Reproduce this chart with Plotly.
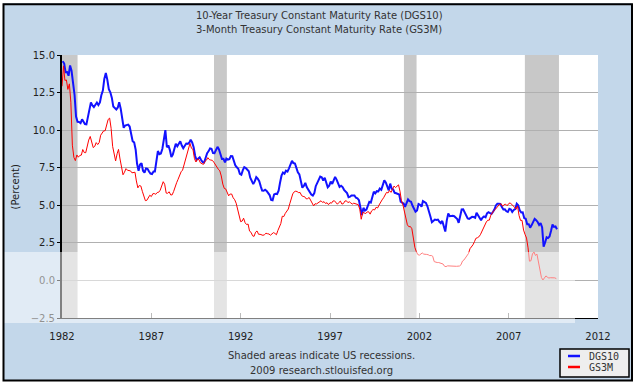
import pandas as pd
import plotly.graph_objects as go

# ---------------- data (monthly) ----------------
dgs10_values = [
    # 1982
    14.59, 14.43, 13.86, 13.87, 13.62, 14.30, 13.95, 13.06, 12.34, 10.91, 10.55, 10.54,
    # 1983
    10.46, 10.72, 10.51, 10.40, 10.38, 10.85, 11.38, 11.85, 11.65, 11.54, 11.69, 11.83,
    # 1984
    11.67, 11.84, 12.32, 12.63, 13.41, 13.80, 13.36, 12.72, 12.52, 12.16, 11.57, 11.50,
    # 1985
    11.38, 11.51, 11.86, 11.43, 10.85, 10.16, 10.31, 10.33, 10.37, 10.24, 9.78, 9.26,
    # 1986
    9.19, 8.70, 7.78, 7.30, 7.71, 7.80, 7.30, 7.17, 7.45, 7.43, 7.25, 7.11,
    # 1987
    7.08, 7.25, 7.25, 8.02, 8.61, 8.40, 8.45, 8.76, 9.42, 10.00, 8.86, 8.99,
    # 1988
    8.67, 8.21, 8.37, 8.72, 9.09, 8.92, 9.06, 9.26, 8.98, 8.80, 8.96, 9.11,
    # 1989
    9.09, 9.17, 9.36, 9.18, 8.86, 8.28, 8.02, 8.11, 8.19, 8.01, 7.87, 7.84,
    # 1990
    8.21, 8.47, 8.59, 8.79, 8.76, 8.48, 8.47, 8.75, 8.89, 8.72, 8.39, 8.08,
    # 1991
    8.09, 7.85, 8.11, 8.04, 8.07, 8.28, 8.27, 7.90, 7.65, 7.53, 7.42, 7.09,
    # 1992
    7.03, 7.34, 7.54, 7.48, 7.39, 7.26, 6.84, 6.59, 6.42, 6.59, 6.87, 6.77,
    # 1993
    6.60, 6.26, 5.98, 5.97, 6.04, 5.96, 5.81, 5.68, 5.36, 5.33, 5.72, 5.77,
    # 1994
    5.75, 5.97, 6.48, 6.97, 7.18, 7.10, 7.30, 7.24, 7.46, 7.74, 7.96, 7.81,
    # 1995
    7.78, 7.47, 7.20, 7.06, 6.63, 6.17, 6.28, 6.49, 6.20, 6.04, 5.93, 5.71,
    # 1996
    5.65, 5.81, 6.27, 6.51, 6.74, 6.91, 6.87, 6.64, 6.83, 6.53, 6.20, 6.30,
    # 1997
    6.58, 6.42, 6.69, 6.89, 6.71, 6.49, 6.22, 6.30, 6.21, 6.03, 5.88, 5.81,
    # 1998
    5.54, 5.57, 5.65, 5.64, 5.65, 5.50, 5.46, 5.34, 4.81, 4.35, 4.83, 4.65,
    # 1999
    4.72, 5.00, 5.23, 5.18, 5.54, 5.90, 5.79, 5.94, 5.92, 6.11, 6.03, 6.28,
    # 2000
    6.66, 6.52, 6.26, 5.99, 6.44, 6.10, 6.05, 5.83, 5.80, 5.74, 5.72, 5.24,
    # 2001
    5.16, 5.10, 4.89, 5.14, 5.39, 5.28, 5.24, 4.97, 4.73, 4.57, 4.65, 5.09,
    # 2002
    5.04, 4.91, 5.28, 5.21, 5.16, 4.93, 4.65, 4.26, 3.87, 3.94, 4.05, 4.03,
    # 2003
    4.05, 3.90, 3.81, 3.96, 3.57, 3.25, 3.98, 4.45, 4.27, 4.29, 4.30, 4.27,
    # 2004
    4.15, 4.08, 3.83, 4.35, 4.72, 4.73, 4.50, 4.28, 4.13, 4.10, 4.19, 4.23,
    # 2005
    4.22, 4.17, 4.50, 4.34, 4.14, 4.00, 4.18, 4.26, 4.20, 4.46, 4.54, 4.47,
    # 2006
    4.42, 4.57, 4.72, 4.99, 5.11, 5.11, 5.09, 4.88, 4.72, 4.73, 4.60, 4.56,
    # 2007
    4.76, 4.72, 4.56, 4.69, 4.75, 5.10, 5.00, 4.67, 4.52, 4.53, 4.15, 4.10,
    # 2008
    3.74, 3.74, 3.51, 3.68, 3.88, 4.10, 4.01, 3.89, 3.69, 3.81, 3.53, 2.25,
    # 2009
    2.52, 2.87, 2.82, 2.93, 3.29, 3.72, 3.56, 3.59, 3.40,
]

gs3m_values = [
    # 1982
    12.92, 14.28, 13.31, 13.34, 12.71, 13.08, 11.86, 9.00, 8.19, 7.97, 8.35, 8.20,
    # 1983
    8.32, 8.34, 8.71, 8.51, 8.50, 8.96, 9.34, 9.58, 9.27, 8.84, 8.92, 9.17,
    # 1984
    9.04, 9.18, 9.66, 9.84, 9.95, 9.96, 10.32, 10.71, 10.80, 10.12, 8.92, 8.34,
    # 1985
    7.95, 8.43, 8.72, 8.08, 7.63, 7.03, 7.20, 7.44, 7.33, 7.33, 7.29, 7.16,
    # 1986
    7.18, 7.20, 6.62, 6.16, 6.32, 6.28, 5.93, 5.64, 5.31, 5.33, 5.48, 5.67,
    # 1987
    5.58, 5.77, 5.78, 5.73, 5.85, 5.87, 6.00, 6.32, 6.57, 6.40, 5.81, 5.80,
    # 1988
    5.90, 5.69, 5.69, 5.92, 6.27, 6.50, 6.73, 7.02, 7.23, 7.34, 7.68, 8.09,
    # 1989
    8.39, 8.76, 9.12, 8.79, 8.72, 8.10, 7.88, 8.09, 8.03, 7.82, 7.78, 7.72,
    # 1990
    7.92, 8.00, 8.17, 8.04, 8.01, 7.99, 7.87, 7.69, 7.60, 7.40, 7.29, 6.95,
    # 1991
    6.41, 6.12, 6.09, 5.83, 5.63, 5.75, 5.75, 5.50, 5.37, 5.14, 4.69, 4.18,
    # 1992
    3.91, 3.95, 4.14, 3.84, 3.72, 3.75, 3.28, 3.20, 2.97, 2.93, 3.21, 3.29,
    # 1993
    3.07, 3.07, 3.04, 3.00, 3.04, 3.14, 3.11, 3.09, 3.01, 3.09, 3.18, 3.13,
    # 1994
    3.04, 3.33, 3.59, 3.78, 4.27, 4.25, 4.46, 4.61, 4.75, 5.10, 5.45, 5.76,
    # 1995
    5.90, 5.94, 5.91, 5.84, 5.85, 5.64, 5.59, 5.57, 5.43, 5.44, 5.52, 5.29,
    # 1996
    5.15, 4.96, 5.10, 5.09, 5.15, 5.23, 5.30, 5.19, 5.24, 5.12, 5.17, 5.04,
    # 1997
    5.17, 5.14, 5.28, 5.30, 5.20, 5.07, 5.19, 5.28, 5.08, 5.11, 5.28, 5.30,
    # 1998
    5.18, 5.23, 5.16, 5.08, 5.14, 5.12, 5.09, 5.04, 4.74, 4.07, 4.53, 4.50,
    # 1999
    4.45, 4.56, 4.57, 4.41, 4.63, 4.72, 4.69, 4.87, 4.82, 5.02, 5.23, 5.36,
    # 2000
    5.50, 5.73, 5.86, 5.82, 5.99, 5.86, 6.14, 6.28, 6.18, 6.29, 6.36, 5.94,
    # 2001
    5.29, 5.01, 4.54, 3.97, 3.70, 3.57, 3.59, 3.44, 2.69, 2.20, 1.91, 1.72,
    # 2002
    1.68, 1.76, 1.83, 1.75, 1.76, 1.73, 1.71, 1.65, 1.66, 1.61, 1.25, 1.21,
    # 2003
    1.19, 1.19, 1.15, 1.15, 1.09, 0.94, 0.92, 0.97, 0.96, 0.94, 0.95, 0.91,
    # 2004
    0.90, 0.94, 0.95, 0.96, 1.04, 1.29, 1.36, 1.50, 1.68, 1.79, 2.11, 2.22,
    # 2005
    2.37, 2.58, 2.80, 2.84, 2.90, 3.04, 3.26, 3.50, 3.62, 3.89, 4.01, 4.01,
    # 2006
    4.34, 4.54, 4.63, 4.72, 4.84, 4.92, 5.08, 5.09, 4.93, 5.05, 5.07, 4.97,
    # 2007
    5.11, 5.16, 5.08, 5.01, 4.87, 4.74, 4.96, 4.32, 3.99, 4.00, 3.35, 3.07,
    # 2008
    2.82, 2.17, 1.28, 1.31, 1.76, 1.89, 1.66, 1.75, 1.15, 0.69, 0.19, 0.03,
    # 2009
    0.13, 0.30, 0.22, 0.16, 0.18, 0.18, 0.18, 0.17, 0.12,
]

recession_starts = ["1982-01-01", "1990-07-05", "2001-02-20", "2007-11-28"]
recession_ends = ["1982-11-15", "1991-03-25", "2001-11-05", "2009-10-25"]

tick_years = [1982, 1987, 1992, 1997, 2002, 2007, 2012]
y_ticks = [-2.5, 0.0, 2.5, 5.0, 7.5, 10.0, 12.5, 15.0]

series_names = ["DGS10", "GS3M"]
title_lines = ["10-Year Treasury Constant Maturity Rate (DGS10)",
               "3-Month Treasury Constant Maturity Rate (GS3M)"]
footer_lines = ["Shaded areas indicate US recessions.", "2009 research.stlouisfed.org"]

# ---------------- style ----------------
W, H = 635, 383
L, R, T, B = 62, 598, 55, 318          # plot area in pixels
BG = "#c3d7ea"
BLUE = "#1212ff"
RED = "#ff0000"
FONT = "DejaVu Sans"


def px_x(px):
    return (px - L) / (R - L)


def px_y(py):
    return (B - py) / (B - T)


dgs10_dates = pd.date_range("1982-01-01", periods=len(dgs10_values), freq="MS") + pd.Timedelta(days=14)
gs3m_dates = pd.date_range("1982-01-01", periods=len(gs3m_values), freq="MS")

fig = go.Figure()
fig.add_trace(go.Scatter(x=dgs10_dates, y=dgs10_values, mode="lines", name=series_names[0],
                         line=dict(color=BLUE, width=2), showlegend=False))
fig.add_trace(go.Scatter(x=gs3m_dates, y=gs3m_values, mode="lines", name=series_names[1],
                         line=dict(color=RED, width=1), showlegend=False))

shapes = []
for s, e in zip(recession_starts, recession_ends):
    shapes.append(dict(type="rect", xref="x", yref="paper", x0=s, x1=e, y0=0, y1=1,
                       fillcolor="#c8c8c8", line=dict(width=0), layer="below"))

# watermark-like light band
shapes.append(dict(type="rect", xref="paper", yref="paper",
                   x0=px_x(0), x1=px_x(575), y0=px_y(323), y1=px_y(252),
                   fillcolor="white", opacity=0.5, line=dict(width=0), layer="above"))

# legend box (drawn by hand)
shapes.append(dict(type="rect", xref="paper", yref="paper",
                   x0=px_x(560), x1=px_x(629), y0=px_y(377), y1=px_y(349),
                   fillcolor="#eeeeee", line=dict(color="black", width=1.5), layer="above"))
for col, py in [(BLUE, 356), (RED, 367)]:
    shapes.append(dict(type="line", xref="paper", yref="paper",
                       x0=px_x(568), x1=px_x(580), y0=px_y(py), y1=px_y(py),
                       line=dict(color=col, width=2.5), layer="above"))

# outer white margin + black frame
shapes.append(dict(type="rect", xref="paper", yref="paper",
                   x0=px_x(0), x1=px_x(W), y0=px_y(H), y1=px_y(0),
                   line=dict(color="white", width=6), layer="above"))
shapes.append(dict(type="rect", xref="paper", yref="paper",
                   x0=px_x(3.5), x1=px_x(632), y0=px_y(380.5), y1=px_y(4.2),
                   line=dict(color="black", width=2), layer="above"))

annotations = []
for txt, py in zip(title_lines, [16, 30]):
    annotations.append(dict(text=txt, xref="paper", yref="paper", x=px_x(319), y=px_y(py),
                            xanchor="center", yanchor="middle", showarrow=False,
                            font=dict(family=FONT, size=10, color="#333333")))
for txt, py in zip(footer_lines, [355, 370]):
    annotations.append(dict(text=txt, xref="paper", yref="paper", x=px_x(321), y=px_y(py),
                            xanchor="center", yanchor="middle", showarrow=False,
                            font=dict(family=FONT, size=10, color="#333333")))
annotations.append(dict(text="(Percent)", xref="paper", yref="paper", x=px_x(15), y=0.5,
                        textangle=-90, xanchor="center", yanchor="middle", showarrow=False,
                        font=dict(family=FONT, size=10, color="#222222")))
for txt, py in zip(series_names, [356, 367]):
    annotations.append(dict(text=txt, xref="paper", yref="paper", x=px_x(587), y=px_y(py),
                            xanchor="left", yanchor="middle", showarrow=False,
                            font=dict(family="DejaVu Sans Mono", size=10, color="#333333")))

fig.update_layout(
    width=W, height=H,
    margin=dict(l=L, r=W - R, t=T, b=H - B, pad=0),
    paper_bgcolor=BG, plot_bgcolor="white",
    showlegend=False,
    shapes=shapes, annotations=annotations,
    font=dict(family=FONT, size=10, color="#222222"),
)
fig.update_xaxes(
    type="date", range=["1982-01-01", "2012-01-01"],
    tickvals=[f"{y}-01-01" for y in tick_years], ticktext=[str(y) for y in tick_years],
    ticks="inside", ticklen=5, tickcolor="#777777", tickwidth=1,
    showgrid=False, zeroline=False,
    showline=True, linecolor="black", linewidth=1,
    tickfont=dict(family=FONT, size=10, color="#222222"),
    ticklabelstandoff=9,
)
fig.update_yaxes(
    range=[-2.5, 15], tickvals=y_ticks, tickformat=".1f",
    ticks="outside", ticklen=3, tickcolor="black",
    showgrid=True, gridcolor="#b0b0b0", gridwidth=1, zeroline=False,
    showline=True, linecolor="black", linewidth=2,
    tickfont=dict(family=FONT, size=10, color="#222222"),
)

fig.write_html(
    "out.html",
    config={"displayModeBar": False},
    post_script="document.documentElement.style.margin='0';document.body.style.margin='0';"
                "document.body.style.overflow='hidden';document.documentElement.style.overflow='hidden';",
)
